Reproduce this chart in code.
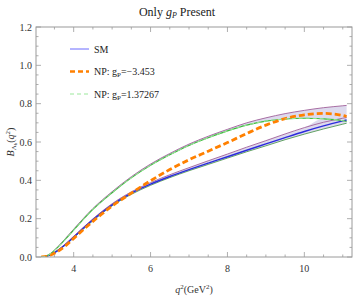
<!DOCTYPE html>
<html lang="en">
  <head>
    <meta charset="utf-8" />
    <script src="https://d3js.org/d3.v7.min.js"></script>
    <style>
      body {
        margin: 0;
        background-color: #fff;
      }
      text {
        font-family: "Liberation Serif", "DejaVu Serif", serif;
      }
    </style>
  </head>
  <body>
    <div id="chart"></div>

    <script>
      const width = 354;
      const height = 300;
      const margin = { top: 27, right: 2, bottom: 43, left: 36 };

      // q^2 sample points (GeV^2)
      const q2 = [3.157, 3.3, 3.45, 3.6, 3.8, 4.0, 4.5, 5.0, 5.5, 6.0, 6.5, 7.0, 7.5, 8.0, 8.5, 9.0, 9.5, 10.0, 10.5, 11.0, 11.1];

      // SM central value and its band
      const sm = [0, 0.004, 0.017, 0.036, 0.068, 0.104, 0.194, 0.272, 0.333, 0.38, 0.42, 0.456, 0.49, 0.523, 0.557, 0.59, 0.623, 0.655, 0.684, 0.71, 0.715];
      const smHi = [0, 0.0045, 0.018, 0.038, 0.071, 0.108, 0.199, 0.278, 0.34, 0.388, 0.429, 0.466, 0.502, 0.537, 0.573, 0.607, 0.642, 0.675, 0.703, 0.724, 0.728];
      const smLo = [0, 0.0035, 0.016, 0.034, 0.065, 0.1, 0.189, 0.267, 0.327, 0.374, 0.414, 0.45, 0.483, 0.516, 0.549, 0.58, 0.612, 0.641, 0.668, 0.693, 0.698];

      // NP g_P = -3.453
      const npNeg = [0, 0.003, 0.014, 0.031, 0.061, 0.097, 0.186, 0.266, 0.333, 0.398, 0.456, 0.507, 0.552, 0.597, 0.644, 0.688, 0.722, 0.742, 0.749, 0.738, 0.733];

      // NP g_P = 1.37267 and the upper band
      const npPos = [0, 0.006, 0.025, 0.053, 0.096, 0.14, 0.248, 0.335, 0.413, 0.478, 0.533, 0.582, 0.622, 0.658, 0.688, 0.709, 0.72, 0.724, 0.721, 0.711, 0.707];
      const bandHi = [0, 0.0065, 0.026, 0.056, 0.1, 0.145, 0.253, 0.341, 0.419, 0.485, 0.54, 0.589, 0.63, 0.666, 0.7, 0.726, 0.748, 0.765, 0.779, 0.789, 0.791];

      const xTicks = [4, 6, 8, 10];
      const yTicks = [0.0, 0.2, 0.4, 0.6, 0.8, 1.0, 1.2];

      const legendItems = [
        { label: "SM", color: "#6b6bff", width: 1, dash: null },
        { label: "NP: g", sub: "P", value: "=\u22123.453", color: "#ff8000", width: 2.6, dash: "5,3" },
        { label: "NP: g", sub: "P", value: "=1.37267", color: "#9be89b", width: 1, dash: "4,3" }
      ];

      const svg = d3
        .select("#chart")
        .append("svg")
        .attr("width", width)
        .attr("height", height);

      const x = d3
        .scaleLinear()
        .domain([3.02, 11.24])
        .range([margin.left, width - margin.right]);

      const y = d3
        .scaleLinear()
        .domain([0, 1.2])
        .range([height - margin.bottom, margin.top]);

      const pts = (arr) => q2.map((q, i) => [q, arr[i]]);

      const line = d3
        .line()
        .x((d) => x(d[0]))
        .y((d) => y(d[1]))
        .curve(d3.curveMonotoneX);

      const area = d3
        .area()
        .x((d) => x(d.q))
        .y0((d) => y(d.lo))
        .y1((d) => y(d.hi))
        .curve(d3.curveMonotoneX);

      svg
        .append("clipPath")
        .attr("id", "plot-clip")
        .append("rect")
        .attr("x", margin.left)
        .attr("y", margin.top)
        .attr("width", width - margin.left - margin.right)
        .attr("height", height - margin.top - margin.bottom);

      const plot = svg.append("g").attr("clip-path", "url(#plot-clip)");

      // bands
      plot
        .append("path")
        .datum(q2.map((q, i) => ({ q: q, lo: npPos[i], hi: bandHi[i] })))
        .attr("d", area)
        .attr("fill", "#cfcbe6")
        .attr("opacity", 0.7);

      // SM band, joined to the upper band where they meet near the end
      plot
        .append("path")
        .datum(q2.map((q, i) => ({ q: q, lo: smLo[i], hi: q > 10.3 ? npPos[i] : smHi[i] })))
        .attr("d", area)
        .attr("fill", "#cfcbe6")
        .attr("opacity", 0.7);

      const curves = [
        { data: smLo, color: "#3f8f3f", width: 0.8 },
        { data: smHi, color: "#a0609a", width: 0.9 },
        { data: sm, color: "#2b2bdc", width: 1.4 },
        { data: bandHi, color: "#a0609a", width: 0.9 },
        { data: npPos, color: "#3dbb3d", width: 1.1 },
        { data: npNeg, color: "#ff8000", width: 2.8, dash: "6,3" },
        { data: npPos, color: "#9be89b", width: 1, dash: "4,3" }
      ];

      curves.forEach((c) => {
        plot
          .append("path")
          .datum(pts(c.data))
          .attr("d", line)
          .attr("fill", "none")
          .attr("stroke", c.color)
          .attr("stroke-width", c.width)
          .attr("stroke-dasharray", c.dash || null);
      });

      // frame
      const frameColor = "#9a9a9a";
      svg
        .append("rect")
        .attr("x", margin.left)
        .attr("y", margin.top)
        .attr("width", width - margin.left - margin.right)
        .attr("height", height - margin.top - margin.bottom)
        .attr("fill", "none")
        .attr("stroke", frameColor)
        .attr("stroke-width", 1);

      // ticks on all four sides, pointing inwards
      const xMinor = d3.range(3.5, 11.01, 0.5).filter((v) => !xTicks.includes(v));
      const yMinor = d3.range(0.05, 1.2, 0.05).filter((v) => !yTicks.some((t) => Math.abs(t - v) < 1e-6));
      const ticks = svg.append("g").attr("stroke", frameColor).attr("stroke-width", 0.8);
      const x0 = x.range()[0], x1 = x.range()[1];
      const y0 = y.range()[0], y1 = y.range()[1];

      xTicks.forEach((t) => {
        ticks.append("line").attr("x1", x(t)).attr("x2", x(t)).attr("y1", y0).attr("y2", y0 - 5);
        ticks.append("line").attr("x1", x(t)).attr("x2", x(t)).attr("y1", y1).attr("y2", y1 + 5);
      });
      xMinor.forEach((t) => {
        ticks.append("line").attr("x1", x(t)).attr("x2", x(t)).attr("y1", y0).attr("y2", y0 - 2.5);
        ticks.append("line").attr("x1", x(t)).attr("x2", x(t)).attr("y1", y1).attr("y2", y1 + 2.5);
      });
      yTicks.forEach((t) => {
        ticks.append("line").attr("y1", y(t)).attr("y2", y(t)).attr("x1", x0).attr("x2", x0 + 5);
        ticks.append("line").attr("y1", y(t)).attr("y2", y(t)).attr("x1", x1).attr("x2", x1 - 5);
      });
      yMinor.forEach((t) => {
        ticks.append("line").attr("y1", y(t)).attr("y2", y(t)).attr("x1", x0).attr("x2", x0 + 2.5);
        ticks.append("line").attr("y1", y(t)).attr("y2", y(t)).attr("x1", x1).attr("x2", x1 - 2.5);
      });

      // tick labels
      svg
        .selectAll(".xlab")
        .data(xTicks)
        .join("text")
        .attr("x", (d) => x(d))
        .attr("y", y0 + 15)
        .attr("text-anchor", "middle")
        .attr("font-size", 10)
        .attr("fill", "#333")
        .text((d) => d);

      svg
        .selectAll(".ylab")
        .data(yTicks)
        .join("text")
        .attr("x", x0 - 4)
        .attr("y", (d) => y(d) + 3.5)
        .attr("text-anchor", "end")
        .attr("font-size", 10)
        .attr("fill", "#333")
        .text((d) => d.toFixed(1));

      // title
      const title = svg
        .append("text")
        .attr("x", 177)
        .attr("y", 16)
        .attr("text-anchor", "middle")
        .attr("font-size", 12)
        .attr("fill", "#222");
      title.append("tspan").text("Only ");
      title.append("tspan").attr("font-style", "italic").text("g");
      title.append("tspan").attr("font-style", "italic").attr("font-size", 8).attr("dy", 2).text("P");
      title.append("tspan").attr("dy", -2).text(" Present");

      // x label
      const xl = svg
        .append("text")
        .attr("x", 194)
        .attr("y", 293)
        .attr("text-anchor", "middle")
        .attr("font-size", 10)
        .attr("fill", "#333");
      xl.append("tspan").attr("font-style", "italic").text("q");
      xl.append("tspan").attr("font-size", 7).attr("dy", -4).text("2");
      xl.append("tspan").attr("dy", 4).text("(GeV");
      xl.append("tspan").attr("font-size", 7).attr("dy", -4).text("2");
      xl.append("tspan").attr("dy", 4).text(")");

      // y label
      const yl = svg
        .append("text")
        .attr("transform", "translate(14,142) rotate(-90)")
        .attr("text-anchor", "middle")
        .attr("font-size", 10)
        .attr("fill", "#333");
      yl.append("tspan").attr("font-style", "italic").text("B");
      yl.append("tspan").attr("font-size", 7).attr("dy", 2).text("\u039B");
      yl.append("tspan").attr("font-size", 5).attr("dy", 1).text("b");
      yl.append("tspan").attr("dy", -3).text("(");
      yl.append("tspan").attr("font-style", "italic").text("q");
      yl.append("tspan").attr("font-size", 7).attr("dy", -4).text("2");
      yl.append("tspan").attr("dy", 4).text(")");

      // legend
      const legend = svg.append("g");
      legendItems.forEach((d, i) => {
        const ly = 49 + i * 22.5;
        legend
          .append("line")
          .attr("x1", 70)
          .attr("x2", 89)
          .attr("y1", ly)
          .attr("y2", ly)
          .attr("stroke", d.color)
          .attr("stroke-width", d.width)
          .attr("stroke-dasharray", d.dash);
        const t = legend
          .append("text")
          .attr("x", 94)
          .attr("y", ly + 3.5)
          .attr("font-size", 10)
          .attr("fill", "#222");
        t.append("tspan").text(d.label);
        if (d.sub) {
          t.append("tspan").attr("font-size", 7).attr("dy", 2).text(d.sub);
          t.append("tspan").attr("dy", -2).text(d.value);
        }
      });
    </script>
  </body>
</html>
